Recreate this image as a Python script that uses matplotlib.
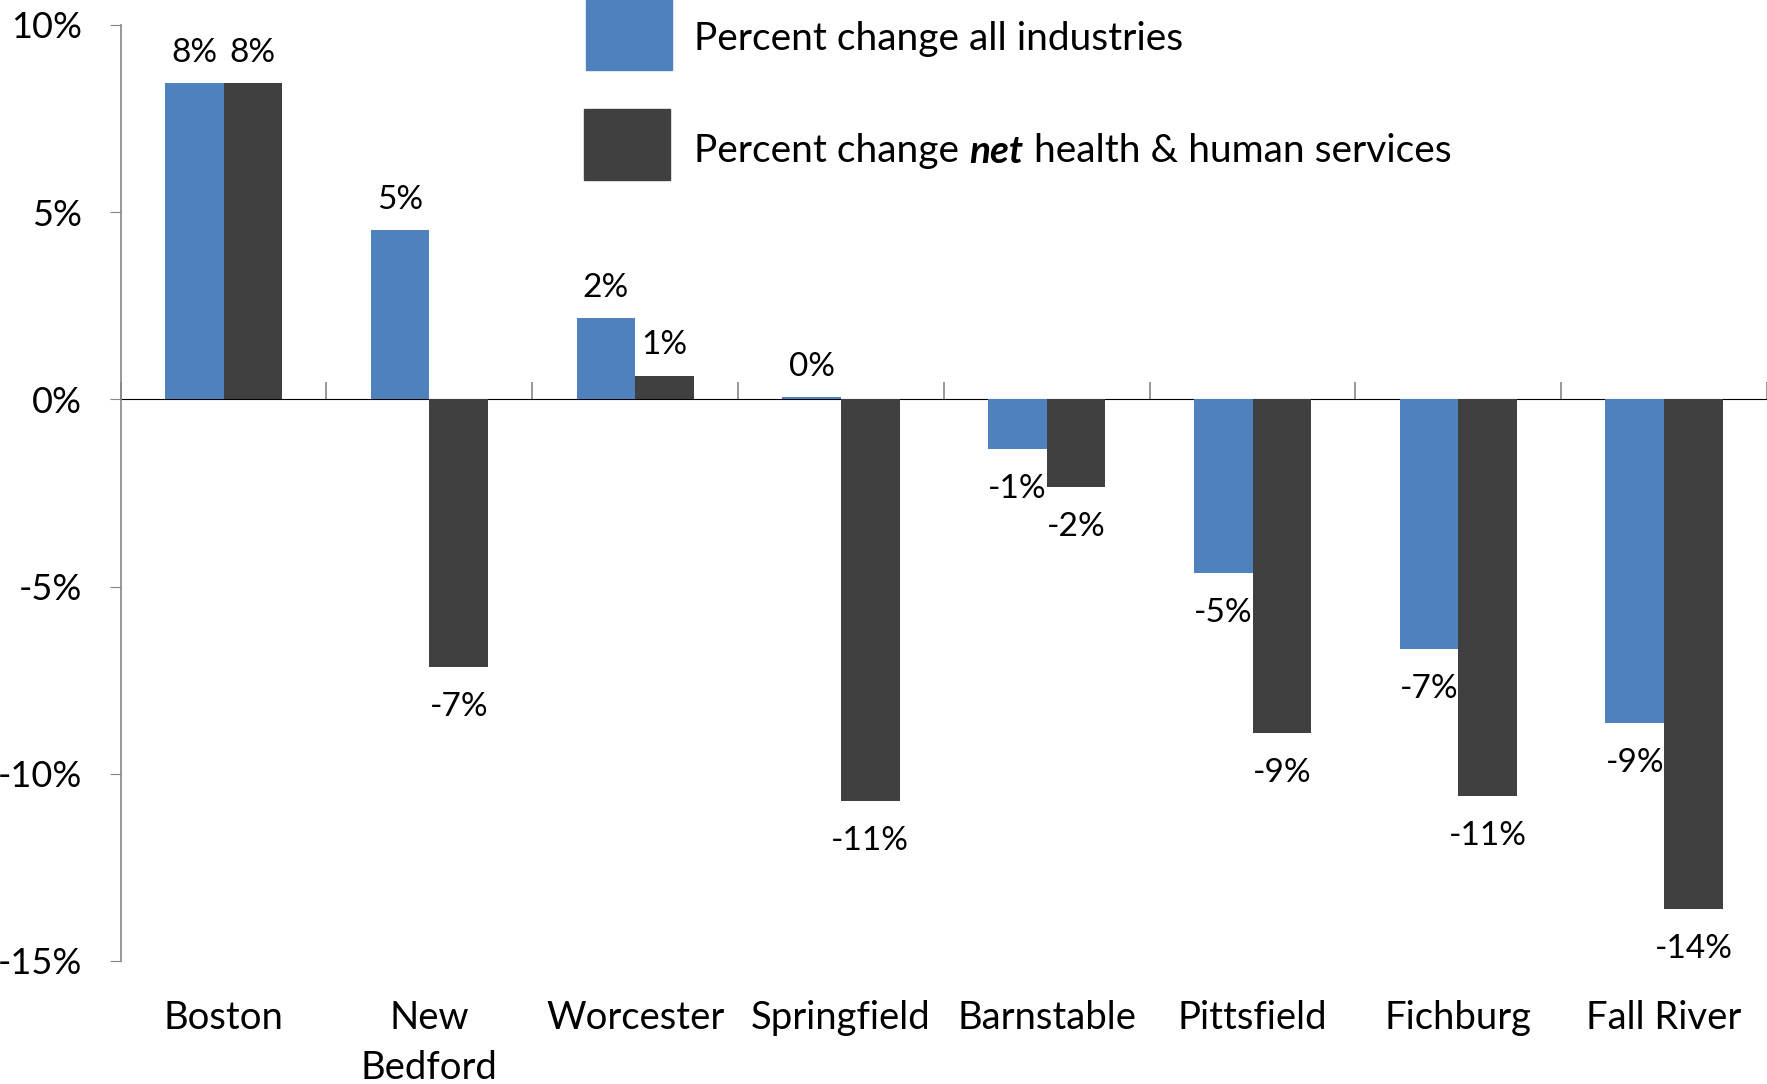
import numpy as np
import matplotlib.pyplot as plt
from matplotlib.patches import Rectangle

plt.rcParams['font.family'] = ['Lato', 'DejaVu Sans']

# data
cities = ['Boston', 'New\nBedford', 'Worcester', 'Springfield', 'Barnstable',
          'Pittsfield', 'Fichburg', 'Fall River']
all_ind = [8.45, 4.52, 2.16, 0.06, -1.32, -4.65, -6.67, -8.65]
net_hhs = [8.45, -7.15, 0.63, -10.72, -2.34, -8.92, -10.6, -13.6]
yticks = [10, 5, 0, -5, -10, -15]

blue = '#4F81BD'
dark = '#404040'
grey = '#868686'

fig = plt.figure(figsize=(17.67, 10.84), dpi=100)
ax = fig.add_axes([0.0683, 0.1135, 0.9317, 0.8636])

x = np.arange(len(cities))
w = 0.285
b1 = ax.bar(x - w / 2, all_ind, w, color=blue)
b2 = ax.bar(x + w / 2, net_hhs, w, color=dark)


def pct_labels(bars, vals):
    pos = ['%.0f%%' % v if v >= 0 else '' for v in vals]
    neg = ['%.0f%%' % v if v < 0 else '' for v in vals]
    ax.bar_label(bars, labels=pos, padding=11, fontsize=24)
    ax.bar_label(bars, labels=neg, padding=18, fontsize=24)


pct_labels(b1, all_ind)
pct_labels(b2, net_hhs)

ax.set_xlim(-0.5, len(cities) - 0.5)
ax.set_ylim(-15, 10)
ax.set_yticks(yticks)
ax.set_yticklabels(['%d%%' % v for v in yticks], fontsize=26)
ax.tick_params(axis='y', length=8, color=grey, pad=20)

ax.set_xticks(x)
ax.set_xticklabels(cities, fontsize=27.5, linespacing=1.5)
ax.tick_params(axis='x', length=0, pad=28)

for s in ['top', 'right', 'bottom']:
    ax.spines[s].set_visible(False)
ax.spines['left'].set_color(grey)
ax.spines['left'].set_linewidth(1.2)

# zero line with category tick marks
sec = ax.secondary_xaxis(0.6)
sec.set_xticks(np.arange(len(cities) + 1) - 0.5)
sec.set_xticklabels([])
sec.tick_params(length=12, color=grey, width=1.2)
sec.spines['bottom'].set_color(grey)
sec.spines['bottom'].set_linewidth(1.2)

# legend drawn by hand
fig.add_artist(Rectangle((0.3316, 0.935), 0.0487, 0.065, transform=fig.transFigure,
                         color=blue))
fig.add_artist(Rectangle((0.3305, 0.834), 0.0487, 0.065, transform=fig.transFigure,
                         color=dark))
fig.text(0.393, 0.964, 'Percent change all industries', fontsize=28, va='center')
t1 = fig.text(0.393, 0.861, 'Percent change ', fontsize=28, va='center')
t2 = ax.annotate('net', xy=(1, 0), xycoords=t1, va='bottom', fontsize=28,
                 fontweight='bold', fontstyle='italic')
ax.annotate(' health & human services', xy=(1, 0), xycoords=t2, va='bottom',
            fontsize=28)

fig.savefig('out.png', dpi=100)
